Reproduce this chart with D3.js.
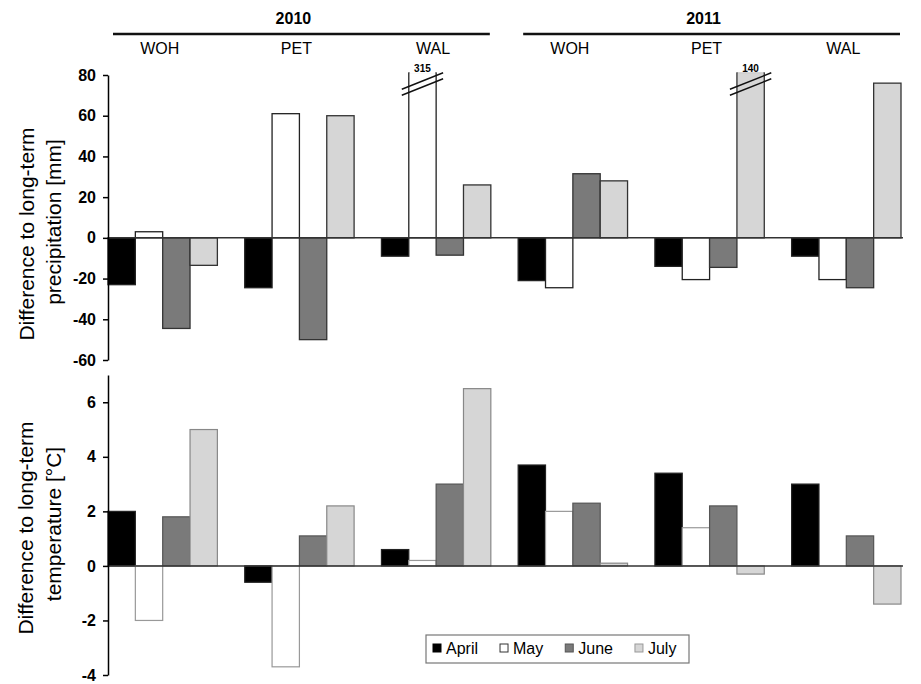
<!DOCTYPE html>
<html>
<head>
<meta charset="utf-8">
<script src="https://cdn.jsdelivr.net/npm/d3@7"></script>
<style>
  body { margin: 0; background: #fff; }
  svg { display: block; font-family: "Liberation Sans", Arial, sans-serif; }
  .axis path, .axis line { stroke: #000; stroke-width: 1.5px; }
  .axis text { font-size: 16px; font-weight: bold; fill: #000; }
</style>
</head>
<body>
<svg id="chart" width="921" height="684"></svg>
<script>
// data
var years = ["2010", "2011"];
var sites = ["WOH", "PET", "WAL"];
var months = ["April", "May", "June", "July"];

// precipitation difference [mm], one value per year/site group
var precipApril = [-23, -24.5, -9, -21, -14, -9];
var precipMay = [3, 61, 315, -24.5, -20.5, -20.5];
var precipJune = [-44.5, -50, -8.5, 31.5, -14.5, -24.5];
var precipJuly = [-13.5, 60, 26, 28, 140, 76];

// temperature difference [°C]
var tempApril = [2.0, -0.6, 0.6, 3.7, 3.4, 3.0];
var tempMay = [-2.0, -3.7, 0.2, 2.0, 1.4, 0];
var tempJune = [1.8, 1.1, 3.0, 2.3, 2.2, 1.1];
var tempJuly = [5.0, 2.2, 6.5, 0.1, -0.3, -1.4];

var precipTicks = [-60, -40, -20, 0, 20, 40, 60, 80];
var tempTicks = [-4, -2, 0, 2, 4, 6];

var monthFill = ["#000000", "#ffffff", "#7a7a7a", "#d6d6d6"];

var svg = d3.select("#chart");

var groups = [];
years.forEach(function (yr) {
    sites.forEach(function (s) { groups.push(yr + "-" + s); });
});

var x = d3.scaleBand().domain(groups).range([108, 901]).paddingInner(0.2).paddingOuter(0);
var xm = d3.scaleBand().domain(months).range([0, x.bandwidth()]);

function rows(series) {
    var out = [];
    groups.forEach(function (g, i) {
        months.forEach(function (m, j) {
            out.push({ group: g, month: m, idx: j, value: series[j][i] });
        });
    });
    return out;
}

// ---- header: years and sites
years.forEach(function (yr) {
    var gs = groups.filter(function (g) { return g.indexOf(yr) == 0; });
    var x0 = x(gs[0]) + 5, x1 = x(gs[gs.length - 1]) + x.bandwidth() - 1;
    svg.append("line")
        .attr("x1", x0).attr("x2", x1).attr("y1", 34).attr("y2", 34)
        .attr("stroke", "#111").attr("stroke-width", 2.5);
    svg.append("text")
        .attr("x", (x0 + x1) / 2 - 8).attr("y", 24)
        .attr("text-anchor", "middle")
        .style("font-size", "16px").style("font-weight", "bold")
        .text(yr);
});

svg.selectAll(".site")
    .data(groups)
    .enter()
    .append("text")
    .attr("class", "site")
    .attr("x", function (g) { return x(g) + x.bandwidth() / 2 - 3; })
    .attr("y", 54)
    .attr("text-anchor", "middle")
    .style("font-size", "16px")
    .text(function (g) { return g.split("-")[1]; });

// ---- panel drawing
function panel(opts) {
    var y = d3.scaleLinear().domain(opts.domain).range(opts.range);
    var top = opts.domain[1];
    var data = rows(opts.series);

    var bars = svg.append("g");
    bars.selectAll("rect")
        .data(data)
        .enter()
        .append("rect")
        .attr("x", function (d) { return x(d.group) + xm(d.month); })
        .attr("width", xm.bandwidth())
        .attr("y", function (d) { return y(Math.min(Math.max(d.value, 0), top + 1)); })
        .attr("height", function (d) {
            var v = Math.min(d.value, top + 1);
            return Math.abs(y(v) - y(0));
        })
        .attr("fill", function (d) { return monthFill[d.idx]; })
        .attr("stroke", function (d) { return opts.stroke[d.idx]; })
        .attr("stroke-width", opts.strokeWidth);

    // broken bars: values beyond the axis top
    var broken = data.filter(function (d) { return d.value > top; });
    broken.forEach(function (d) {
        var bx = x(d.group) + xm(d.month), bw = xm.bandwidth();
        var cx = bx + bw / 2;
        // hide top edge
        svg.append("line")
            .attr("x1", bx + 0.8).attr("x2", bx + bw - 0.8)
            .attr("y1", y(top + 1)).attr("y2", y(top + 1))
            .attr("stroke", monthFill[d.idx]).attr("stroke-width", 2);
        [6, 12].forEach(function (off) {
            var cy = y(top) + off;
            svg.append("line")
                .attr("x1", cx - bw / 2 - 7).attr("y1", cy + (bw / 2 + 7) * 0.4)
                .attr("x2", cx + bw / 2 + 7).attr("y2", cy - (bw / 2 + 7) * 0.4)
                .attr("stroke", "#111").attr("stroke-width", 1.4);
        });
        svg.append("text")
            .attr("x", cx).attr("y", y(top) - 3)
            .attr("text-anchor", "middle")
            .style("font-size", "10px").style("font-weight", "bold")
            .text(d.value);
    });

    // zero line
    svg.append("line")
        .attr("x1", 108).attr("x2", 903)
        .attr("y1", y(0)).attr("y2", y(0))
        .attr("stroke", "#333").attr("stroke-width", 1.5);

    svg.append("g")
        .attr("class", "axis")
        .attr("transform", "translate(108,0)")
        .call(d3.axisLeft(y).tickValues(opts.ticks).tickSize(5).tickSizeOuter(0).tickPadding(7)
            .tickFormat(function (d) { return String(d); }));

    opts.title.forEach(function (t, i) {
        svg.append("text")
            .attr("transform", "translate(" + t[0] + "," + t[1] + ") rotate(-90)")
            .attr("text-anchor", "middle")
            .attr("dy", "0.35em")
            .style("font-size", "21px")
            .text(t[2]);
    });
}

panel({
    domain: [-60, 80],
    range: [360, 75],
    series: [precipApril, precipMay, precipJune, precipJuly],
    ticks: precipTicks,
    stroke: ["#222", "#222", "#333", "#333"],
    strokeWidth: 1.3,
    title: [[27, 234, "Difference to long-term"], [54, 222, "precipitation [mm]"]]
});

panel({
    domain: [-4, 7],
    range: [675, 375],
    series: [tempApril, tempMay, tempJune, tempJuly],
    ticks: tempTicks,
    stroke: ["#222", "#999", "#555", "#888"],
    strokeWidth: 1.2,
    title: [[26, 528, "Difference to long-term"], [54, 524, "temperature [°C]"]]
});

// ---- legend
var legend = svg.append("g");
legend.append("rect")
    .attr("x", 426).attr("y", 635).attr("width", 263).attr("height", 28)
    .attr("fill", "#fff").attr("stroke", "#777").attr("stroke-width", 1.2);
var legendStroke = ["#000", "#333", "#555", "#999"];
var cursor = 433;
months.forEach(function (m, i) {
    legend.append("rect")
        .attr("x", cursor).attr("y", 644).attr("width", 8).attr("height", 8)
        .attr("fill", monthFill[i]).attr("stroke", legendStroke[i]).attr("stroke-width", 1);
    var t = legend.append("text")
        .attr("x", cursor + 13).attr("y", 654)
        .style("font-size", "16px")
        .text(m);
    cursor += 13 + t.node().getComputedTextLength() + 22;
});
</script>
</body>
</html>
